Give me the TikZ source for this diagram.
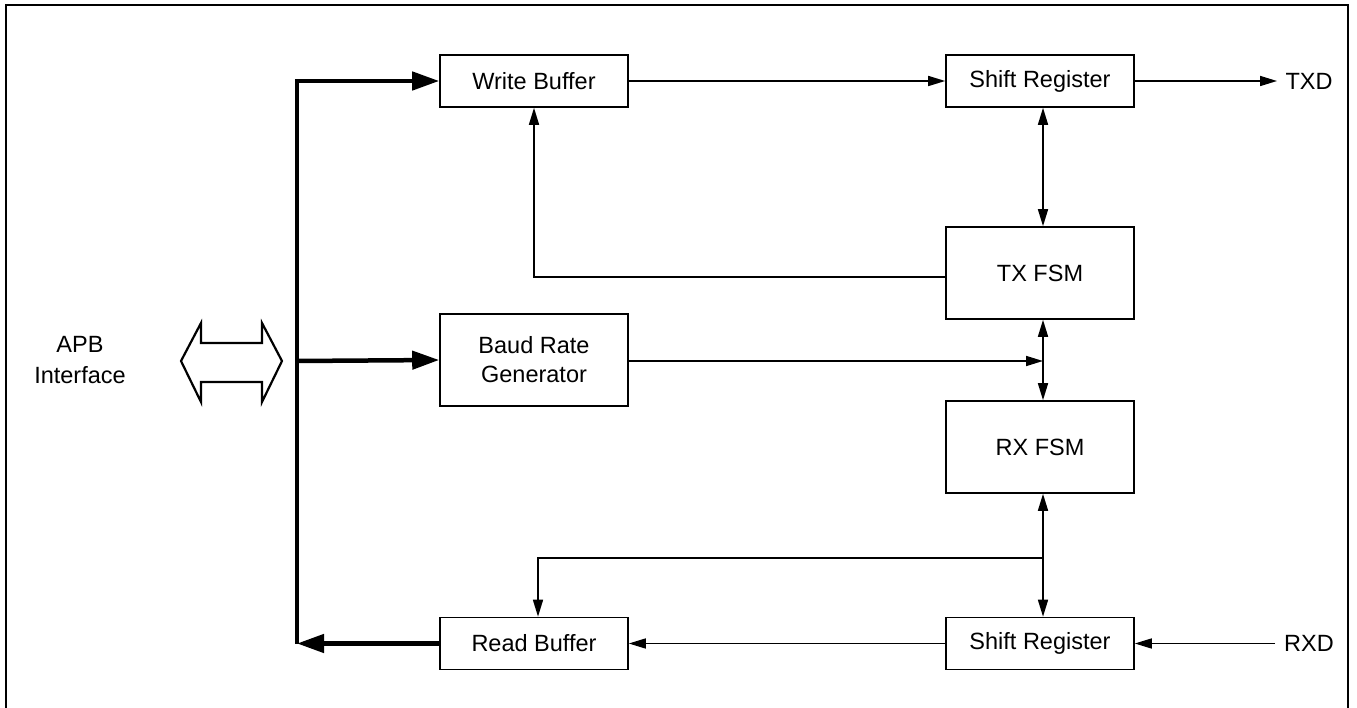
\documentclass[tikz,border=0pt]{standalone}
\usepackage{fontspec}
\setmainfont{Liberation Sans}
\usetikzlibrary{arrows.meta}
\begin{document}
\begin{tikzpicture}[x=1pt,y=-1pt,
  blk/.style={draw,line width=1.6pt,minimum width=188pt,inner sep=0pt,align=center,
    font=\fontsize{23.5}{29}\selectfont},
  lbl/.style={inner sep=0pt,align=center,font=\fontsize{23.5}{31}\selectfont},
  thin/.style={line width=1.6pt,-{Triangle[length=17pt,width=10pt]}},
  both/.style={line width=1.6pt,{Triangle[length=17pt,width=10pt]}-{Triangle[length=17pt,width=10pt]}},
  thick/.style={line width=4.5pt,-{Triangle[length=27pt,width=18pt]}}]
\useasboundingbox (0,0) rectangle (1357,708);
\draw[line width=2.3pt] (6,708) -- (6,5) -- (1348,5) -- (1348,708);

% nodes
\node[blk,minimum height=52pt] (wb) at (534,81) {Write Buffer};
\node[blk,minimum height=92pt] (brg) at (534,360) {Baud Rate\\Generator};
\node[blk,minimum height=52pt] (rb) at (534,643.5) {Read Buffer};
\node[blk,minimum height=52pt] (srt) at (1040,81) {Shift Register};
\node[blk,minimum height=92pt] (txf) at (1040,273) {TX FSM};
\node[blk,minimum height=92pt] (rxf) at (1040,447) {RX FSM};
\node[blk,minimum height=52pt] (srr) at (1040,643.5) {Shift Register};
\node[lbl] (txd) at (1309,81) {TXD};
\node[lbl] (rxd) at (1309,643.5) {RXD};
\node[lbl] (apb) at (80,360) {APB\\Interface};

% bus coordinates
\coordinate (bt) at (297,81);
\coordinate (bm) at (297,361);
\coordinate (bb) at (297,643.5);
\coordinate (vx) at (1043,0);
\coordinate (brj) at (1043,361);
\coordinate (rxj) at (1043,558);
\coordinate (rbj) at (538,558);
\coordinate (fbj) at (534,277);

% double-headed outline arrow
\draw[line width=2.2pt,line join=miter] (181,361) -- (201,323) -- (201,343) -- (262,343) -- (262,323)
  -- (282,361) -- (262,402) -- (262,382) -- (201,382) -- (201,402) -- cycle;

% bus
\draw[line width=4.5pt] (bb) -- (bt);
\draw[thick] ([xshift=-2.25pt]bt) -- (wb.west);
\draw[thick] (bm) -- (brg.west);
\draw[thick] (rb.west) -- (bb);

% thin connectors
\draw[thin] (wb.east) -- (srt.west);
\draw[thin] (srt.east) -- (txd.west -| 1277,0);
\draw[both] (srt.south -| vx) -- (txf.north -| vx);
\draw[thin] (txf.west |- fbj) -- (fbj) -- (wb.south);
\draw[both] (txf.south -| vx) -- (rxf.north -| vx);
\draw[thin] (brg.east |- brj) -- (brj);
\draw[both] (rxf.south -| vx) -- (srr.north -| vx);
\draw[thin] (rxj) -- (rbj) -- (rb.north -| rbj);
\draw[thin] (srr.west) -- (rb.east);
\draw[thin] (rxd.west -| 1275,0) -- (srr.east);
\end{tikzpicture}
\end{document}
